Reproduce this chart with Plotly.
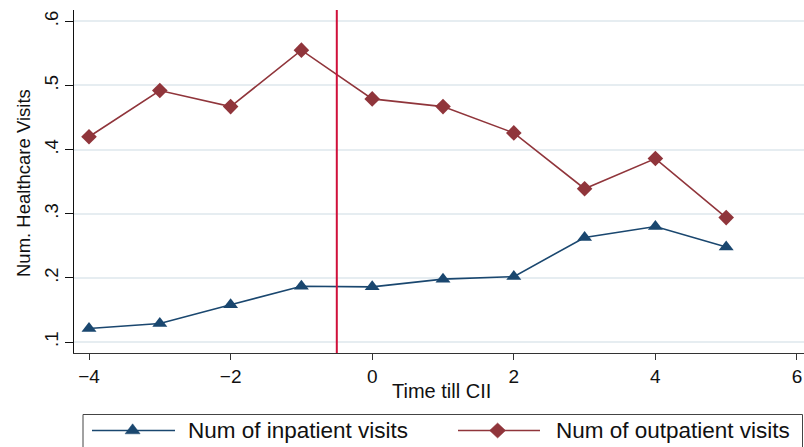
import plotly.graph_objects as go

# Event-time values (years relative to CII)
periods = [-4, -3, -2, -1, 0, 1, 2, 3, 4, 5]
inpatient = [0.121, 0.129, 0.158, 0.187, 0.186, 0.198, 0.202, 0.263, 0.280, 0.248]
outpatient = [0.420, 0.492, 0.467, 0.555, 0.479, 0.467, 0.426, 0.339, 0.386, 0.294]

series_names = ["Num of inpatient visits", "Num of outpatient visits"]
y_ticks = [0.1, 0.2, 0.3, 0.4, 0.5, 0.6]
y_tick_text = [".1", ".2", ".3", ".4", ".5", ".6"]
x_ticks = [-4, -2, 0, 2, 4, 6]
x_tick_text = ["\u22124", "\u22122", "0", "2", "4", "6"]
event_x = -0.5

NAVY = "#1a476f"
MAROON = "#90353b"
FONT = "Liberation Sans, Arial, sans-serif"

W, H = 804, 447
ML, MR, MT, MB = 74, 0, 10, 94
PW = W - ML - MR
PH = H - MT - MB


def px_x(px):
    return (px - ML) / PW


def px_y(py):
    return (H - MB - py) / PH


fig = go.Figure()

fig.add_trace(go.Scatter(
    x=periods, y=inpatient, mode="lines+markers", name=series_names[0],
    line=dict(color=NAVY, width=1.6),
    marker=dict(symbol="triangle-up", size=13, color=NAVY),
    showlegend=False,
))
fig.add_trace(go.Scatter(
    x=periods, y=outpatient, mode="lines+markers", name=series_names[1],
    line=dict(color=MAROON, width=1.6),
    marker=dict(symbol="diamond", size=12, color=MAROON),
    showlegend=False,
))

# vertical reference line between -1 and 0
fig.add_shape(type="line", xref="x", yref="paper", x0=event_x, x1=event_x,
              y0=0, y1=1, line=dict(color="#d0103a", width=2))

# legend box drawn by hand
fig.add_shape(type="rect", xref="paper", yref="paper",
              x0=px_x(83), x1=px_x(802.5), y0=px_y(452), y1=px_y(414.5),
              line=dict(color="#444444", width=1), fillcolor="white", layer="above")

legend_y = px_y(430.5)
keys = [
    (92, 175, 132.6, NAVY, "M-7.5,-3.3L7.5,-3.3L0,6.7Z", 186, series_names[0]),
    (458, 540, 497.6, MAROON, "M-8,0L0,7.5L8,0L0,-7.5Z", 554, series_names[1]),
]
for x0, x1, xm, col, path, xt, label in keys:
    fig.add_shape(type="line", xref="paper", yref="paper",
                  x0=px_x(x0), x1=px_x(x1), y0=legend_y, y1=legend_y,
                  line=dict(color=col, width=1.6), layer="above")
    fig.add_shape(type="path", xref="paper", yref="paper",
                  xsizemode="pixel", ysizemode="pixel",
                  xanchor=px_x(xm), yanchor=legend_y, path=path,
                  fillcolor=col, line=dict(color=col, width=0.5), layer="above")
    fig.add_annotation(xref="paper", yref="paper", x=px_x(xt), y=legend_y,
                       xanchor="left", yanchor="middle", showarrow=False,
                       text=label, font=dict(family=FONT, size=22.5, color="#111111"))

# axis titles
fig.add_annotation(xref="paper", yref="paper", x=px_x(441), y=px_y(391),
                   xanchor="center", yanchor="middle", showarrow=False,
                   text="Time till CII", font=dict(family=FONT, size=20, color="#111111"))
fig.add_annotation(xref="paper", yref="paper", x=px_x(24), y=px_y(183),
                   xanchor="center", yanchor="middle", showarrow=False, textangle=-90,
                   text="Num. Healthcare Visits", font=dict(family=FONT, size=18.5, color="#111111"))

fig.update_layout(
    width=W, height=H,
    margin=dict(l=ML, r=MR, t=MT, b=MB, pad=0),
    paper_bgcolor="white", plot_bgcolor="white",
    font=dict(family=FONT, color="#111111"),
    xaxis=dict(
        range=[-4.212, 6.099], tickvals=x_ticks, ticktext=x_tick_text,
        showgrid=False, zeroline=False,
        showline=True, linecolor="#333333", linewidth=1.2,
        ticks="outside", ticklen=6, tickcolor="#333333", tickwidth=1.2,
        tickfont=dict(family=FONT, size=19, color="#111111"),
    ),
    yaxis=dict(
        range=[0.0829, 0.6176], tickvals=y_ticks, ticktext=y_tick_text,
        tickangle=-90,
        showgrid=True, gridcolor="#e6edf1", gridwidth=1.5, zeroline=False,
        showline=True, linecolor="#111111", linewidth=1.2,
        ticks="outside", ticklen=8, tickcolor="#111111", tickwidth=1.2,
        tickfont=dict(family=FONT, size=18.5, color="#111111"),
    ),
)

fig.write_html("out.html")
